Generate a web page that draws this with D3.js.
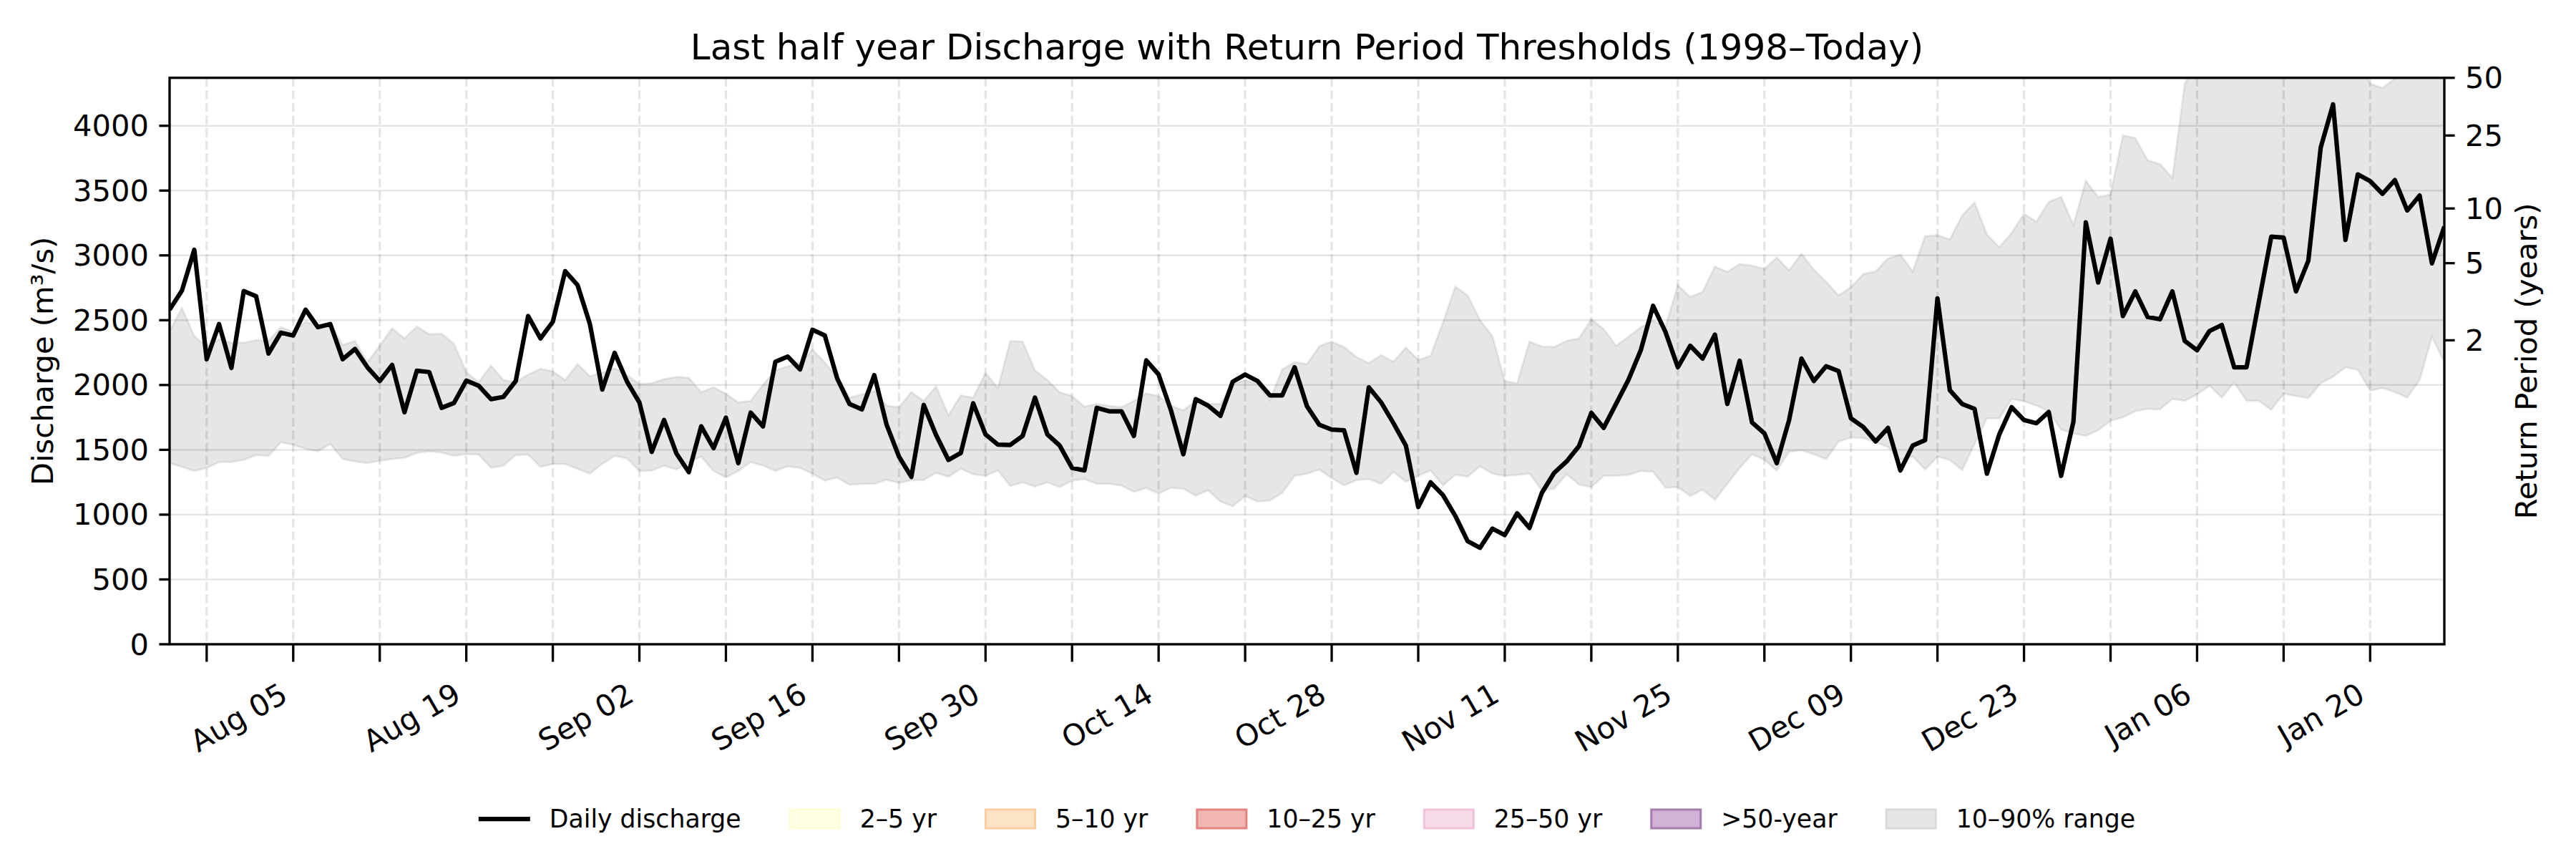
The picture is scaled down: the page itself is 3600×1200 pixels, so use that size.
<!DOCTYPE html>
<html><head><meta charset="utf-8">
<script src="https://cdn.jsdelivr.net/npm/d3@7"></script>
<style>
body{margin:0;background:#fff}
svg{display:block}
text{font-family:"DejaVu Sans",sans-serif;fill:#000}
</style>
</head><body>
<svg id="chart" width="3600" height="1200"></svg>
<script>
// ---------------- DATA ----------------
const startDate = "2024-07-26";
const discharge = [2581,2729,3043,2199,2470,2132,2725,2685,2243,2404,2382,2581,2446,2470,2199,2278,2137,2031,2155,1790,
2110,2100,1824,1861,2034,1994,1891,1908,2031,2532,2359,2488,2878,2771,2470,1965,2248,2026,1866,1484,
1730,1471,1328,1681,1513,1748,1397,1787,1681,2179,2219,2120,2426,2382,2051,1854,1812,2076,1693,1447,
1291,1846,1614,1422,1476,1859,1619,1540,1538,1607,1903,1619,1533,1360,1341,1824,1797,1797,1607,2190,
2081,1804,1466,1891,1841,1762,2026,2081,2031,1920,1920,2137,1836,1693,1656,1651,1323,1982,1866,1705,
1533,1059,1249,1151,990,795,744,892,842,1010,897,1168,1323,1410,1528,1785,1669,1854,2039,2268,
2611,2409,2137,2303,2204,2389,1854,2187,1711,1627,1397,1730,2204,2031,2145,2108,1743,1676,1565,1669,
1341,1533,1575,2668,1960,1854,1816,1316,1619,1829,1730,1705,1792,1299,1718,3255,2791,3129,2532,2722,
2525,2507,2722,2340,2268,2416,2463,2137,2137,2643,3144,3137,2722,2959,3832,4165,3119,3625,3573,3475,
3581,3346,3462,2939,3223];
const p10 = [1397,1368,1336,1360,1405,1405,1422,1459,1452,1558,1538,1508,1489,1545,1429,1410,1397,1415,1429,1439,
1476,1489,1479,1454,1466,1464,1362,1378,1459,1464,1368,1390,1390,1353,1316,1392,1452,1434,1336,1339,
1378,1348,1405,1447,1336,1286,1336,1405,1378,1336,1373,1360,1316,1262,1286,1230,1237,1237,1269,1244,
1266,1266,1323,1291,1355,1311,1299,1341,1220,1249,1217,1249,1212,1262,1274,1237,1237,1225,1175,1205,
1163,1207,1200,1146,1188,1101,1064,1143,1101,1109,1168,1299,1316,1348,1281,1225,1266,1274,1237,1328,
1254,1299,1341,1225,1306,1293,1373,1316,1299,1306,1316,1188,1200,1311,1232,1212,1299,1299,1306,1336,
1331,1207,1212,1143,1193,1114,1237,1360,1466,1422,1341,1484,1496,1466,1427,1563,1595,1590,1558,1521,
1422,1447,1348,1447,1422,1343,1545,1743,1743,1891,1874,1841,1797,1656,1627,1607,1651,1723,1750,1797,
1816,1812,1891,1878,1928,1994,1903,2021,1878,1878,1809,1933,1915,1898,2014,2063,2137,2118,1957,1977,
1945,1903,2039,2372,2174];
const p90 = [2416,2594,2377,2298,2352,2327,2327,2347,2340,2446,2409,2488,2458,2470,2310,2340,2174,2303,2438,2359,
2451,2392,2396,2318,2100,2021,2150,2039,2021,2081,2125,2105,2039,2162,2068,2095,2130,2076,2007,2014,
2046,2063,2056,1945,1982,1933,1866,1878,2002,2113,2145,2174,2273,2174,2063,1903,1928,1952,1841,1829,
1945,1878,1989,1767,1920,1903,2093,1977,2340,2335,2113,2039,1945,1915,1834,1854,1841,1829,1878,1935,
1915,1841,1804,1878,1854,1854,2007,2039,2007,1883,2120,2177,2162,2300,2335,2293,2216,2169,2231,2179,
2290,2194,2226,2483,2759,2692,2500,2377,2031,2014,2335,2298,2293,2342,2359,2507,2433,2303,2372,2446,
2495,2450,2771,2680,2717,2914,2873,2934,2922,2895,2984,2885,3013,2890,2796,2692,2754,2857,2877,2976,
3006,2877,3148,3156,3124,3309,3408,3161,3063,3174,3322,3260,3413,3452,3235,3576,3450,3470,3926,3906,
3734,3704,3598,4321,4520,4580,4610,4550,4600,4640,4580,4620,4660,4600,4700,4650,4560,4480,4326,4291,
4365,4450,4520,4600,4560];
const yTicks = [0,500,1000,1500,2000,2500,3000,3500,4000];
const yMax = 4370;
const xTickLabels = ["Aug 05","Aug 19","Sep 02","Sep 16","Sep 30","Oct 14","Oct 28","Nov 11","Nov 25","Dec 09","Dec 23","Jan 06","Jan 20"];
const rpYears = [2,5,10,25,50];
const rpDischarge = [2345,2940,3362,3925,4370];
const legendLabels = ["Daily discharge","2–5 yr","5–10 yr","10–25 yr","25–50 yr",">50-year","10–90% range"];
const titleText = "Last half year Discharge with Return Period Thresholds (1998–Today)";

// ---------------- STYLE / LAYOUT ----------------
const M = {left:237, right:3416, top:108.7, bottom:900};
const FS = 41.67, LFS = 34.7;
const legendStyles = [
  {type:"line"},
  {fill:"#fefee2", stroke:"#fdfdd6"},
  {fill:"#fde3c8", stroke:"#fccf9f"},
  {fill:"#f1b5b3", stroke:"#e5827e"},
  {fill:"#f6dae9", stroke:"#efc1da"},
  {fill:"#d0b3d6", stroke:"#a87bb0"},
  {fill:"#e6e6e6", stroke:"#dadada"}
];

const svg = d3.select("#chart");
const parse = d3.utcParse("%Y-%m-%d");
const t0 = parse(startDate);
const dates = discharge.map((_, i) => d3.utcDay.offset(t0, i));
const rows = dates.map((d, i) => ({date: d, q: discharge[i], lo: p10[i], hi: p90[i]}));

const x = d3.scaleUtc().domain([dates[0], dates[dates.length - 1]]).range([M.left, M.right]);
const y = d3.scaleLinear().domain([0, yMax]).range([M.bottom, M.top]);

svg.append("defs").append("clipPath").attr("id", "plotclip")
  .append("rect").attr("x", M.left).attr("y", M.top)
  .attr("width", M.right - M.left).attr("height", M.bottom - M.top);

// band
svg.append("path").datum(rows)
  .attr("clip-path", "url(#plotclip)")
  .attr("d", d3.area().x(d => x(d.date)).y0(d => y(d.lo)).y1(d => y(d.hi)))
  .attr("fill", "rgba(128,128,128,0.2)")
  .attr("stroke", "rgba(128,128,128,0.15)")
  .attr("stroke-width", 3);

// grid
const fmt = d3.utcFormat("%b %d");
const weekTicks = d3.utcMonday.range(dates[0], d3.utcDay.offset(dates[dates.length - 1], 1));
svg.append("g").selectAll("line").data(yTicks).join("line")
  .attr("x1", M.left).attr("x2", M.right)
  .attr("y1", d => y(d)).attr("y2", d => y(d))
  .attr("stroke", "rgba(0,0,0,0.1)").attr("stroke-width", 2.5);
svg.append("g").selectAll("line").data(weekTicks).join("line")
  .attr("x1", d => x(d)).attr("x2", d => x(d))
  .attr("y1", M.top).attr("y2", M.bottom)
  .attr("stroke", "rgba(0,0,0,0.1)").attr("stroke-width", 3.3)
  .attr("stroke-dasharray", "12.3,5.3");

// line
svg.append("path").datum(rows)
  .attr("clip-path", "url(#plotclip)")
  .attr("d", d3.line().x(d => x(d.date)).y(d => y(d.q)))
  .attr("fill", "none").attr("stroke", "#000")
  .attr("stroke-width", 6.25).attr("stroke-linejoin", "round");

// spines
svg.append("rect").attr("x", M.left).attr("y", M.top)
  .attr("width", M.right - M.left).attr("height", M.bottom - M.top)
  .attr("fill", "none").attr("stroke", "#000").attr("stroke-width", 3.33);

// left axis
const gl = svg.append("g");
gl.selectAll("line").data(yTicks).join("line")
  .attr("x1", M.left - 14.6).attr("x2", M.left)
  .attr("y1", d => y(d)).attr("y2", d => y(d))
  .attr("stroke", "#000").attr("stroke-width", 3.33);
gl.selectAll("text").data(yTicks).join("text")
  .attr("x", M.left - 29).attr("y", d => y(d))
  .attr("text-anchor", "end").attr("dominant-baseline", "central")
  .attr("font-size", FS).text(d => d);
svg.append("text")
  .attr("transform", `translate(74,${(M.top + M.bottom) / 2}) rotate(-90)`)
  .attr("text-anchor", "middle").attr("font-size", FS)
  .text("Discharge (m³/s)");

// right axis
const gr = svg.append("g");
gr.selectAll("line").data(rpDischarge).join("line")
  .attr("x1", M.right).attr("x2", M.right + 14.6)
  .attr("y1", d => y(d)).attr("y2", d => y(d))
  .attr("stroke", "#000").attr("stroke-width", 3.33);
gr.selectAll("text").data(rpYears).join("text")
  .attr("x", M.right + 29).attr("y", (d, i) => y(rpDischarge[i]))
  .attr("dominant-baseline", "central")
  .attr("font-size", FS).text(d => d);
svg.append("text")
  .attr("transform", `translate(3545,${(M.top + M.bottom) / 2}) rotate(-90)`)
  .attr("text-anchor", "middle").attr("font-size", FS)
  .text("Return Period (years)");

// x axis
const gx = svg.append("g");
gx.selectAll("line").data(weekTicks).join("line")
  .attr("x1", d => x(d)).attr("x2", d => x(d))
  .attr("y1", M.bottom).attr("y2", M.bottom + 24.5)
  .attr("stroke", "#000").attr("stroke-width", 3.33);
gx.selectAll("text").data(weekTicks.filter(d => xTickLabels.includes(fmt(d)))).join("text")
  .attr("transform", d => `translate(${x(d) - 5},978) rotate(-30)`)
  .attr("text-anchor", "end").attr("font-size", FS)
  .text(d => fmt(d));

// title
svg.append("text").attr("x", (M.left + M.right) / 2).attr("y", 82.7)
  .attr("text-anchor", "middle").attr("font-size", 50).text(titleText);

// legend
const lg = svg.append("g");
const handleW = 72, handleH = 26, pad = 27, colGap = 67, ly = 1144;
const items = legendLabels.map((lab, i) => {
  const g = lg.append("g");
  const t = g.append("text").attr("font-size", LFS).attr("dominant-baseline", "central").attr("y", ly).text(lab);
  return {g, t, w: t.node().getComputedTextLength(), s: legendStyles[i]};
});
const total = d3.sum(items, d => handleW + pad + d.w) + colGap * (items.length - 1);
let cx = (M.left + M.right) / 2 - total / 2;
items.forEach(it => {
  if (it.s.type === "line") {
    it.g.append("line").attr("x1", cx).attr("x2", cx + handleW).attr("y1", ly).attr("y2", ly)
      .attr("stroke", "#000").attr("stroke-width", 6.25);
  } else {
    it.g.append("rect").attr("x", cx + 1.5).attr("y", ly - handleH / 2)
      .attr("width", handleW - 3).attr("height", handleH)
      .attr("fill", it.s.fill).attr("stroke", it.s.stroke).attr("stroke-width", 3);
  }
  it.t.attr("x", cx + handleW + pad);
  cx += handleW + pad + it.w + colGap;
});
</script>
</body></html>
